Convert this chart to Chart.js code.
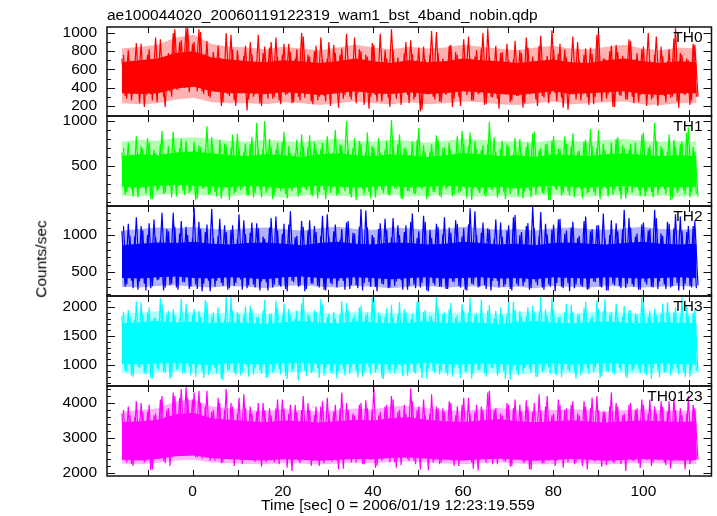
<!DOCTYPE html>
<html>
<head>
<meta charset="utf-8">
<script src="https://cdn.jsdelivr.net/npm/chart.js@4.4.0/dist/chart.umd.min.js"></script>
<style>
  html, body { margin: 0; padding: 0; background: #fff; }
  #wrap { position: relative; width: 717px; height: 516px; overflow: hidden; font-family: "Liberation Sans", Arial, Helvetica, sans-serif; }
  #wrap canvas { position: absolute; left: 0; top: 0; }
  .txt { position: absolute; white-space: nowrap; color: #000; font-size: 15.5px; line-height: 1; font-weight: normal; }
</style>
</head>
<body>
<div id="wrap">
  <canvas id="c0" width="717" height="516"></canvas>
  <canvas id="c1" width="717" height="516"></canvas>
  <canvas id="c2" width="717" height="516"></canvas>
  <canvas id="c3" width="717" height="516"></canvas>
  <canvas id="c4" width="717" height="516"></canvas>
  <div class="txt" id="title" style="left:107px;top:7px;">ae100044020_20060119122319_wam1_bst_4band_nobin.qdp</div>
  <div class="txt" id="ylab" style="left:41px;top:259px;transform:translate(-50%,-50%) rotate(-90deg);">Counts/sec</div>
  <div class="txt" id="xlab" style="left:398px;top:505px;transform:translate(-50%,-50%);">Time [sec] 0 = 2006/01/19 12:23:19.559</div>
</div>
<script>
// time bins (sec from 2006/01/19 12:23:19.559)
const T_START = -15.7;
const T_STEP = 0.712;      // spacing of each sample list (the b lists sit half a step later)
const CORE_STEP = 3.984;   // band envelope samples

// individual samples (the spikes)
const th0 = [
  720,310, 810,260, 690,380, 880,190, 760,330, 650,240, 930,300, 700,360, 1000,380, 900,420,
  1060,350, 880,430, 1040,360, 770,310, 720,400, 860,200, 700,330, 980,260, 810,370, 750,150,
  900,300, 690,230, 780,340, 840,280, 950,260, 760,320, 880,230, 720,300, 1000,290, 760,250,
  800,260, 950,310, 720,200, 870,340, 760,280, 990,300, 700,230, 820,360, 760,170, 890,320,
  680,250, 810,290, 1040,350, 730,210, 780,320, 920,270, 700,140, 850,330, 760,300, 1010,250,
  720,320, 860,190, 790,300, 700,360, 960,260, 740,330, 830,210, 1050,300, 690,280, 780,350,
  880,240, 710,310, 810,180, 950,330, 740,270, 860,310, 700,230, 1030,340, 770,290, 820,160,
  690,330, 900,260, 760,300, 840,220, 980,350, 720,280, 800,190, 870,320, 750,270, 930,300,
  710,240, 820,330, 1000,270, 760,200, 850,310, 690,290, 940,250, 780,330, 720,210, 880,300
];
const th0b = [
  760,280, 700,350, 890,230, 640,320, 820,260, 950,380, 710,190, 780,300, 1040,380, 920,400,
  1050,420, 900,360, 1010,330, 910,290, 790,370, 730,240, 1000,310, 820,200, 700,350, 860,270,
  770,330, 980,200, 850,280, 900,300, 740,220, 880,330, 790,240, 820,260, 960,340, 740,220,
  860,300, 710,250, 900,350, 780,180, 830,320, 690,270, 950,340, 800,210, 740,300, 870,250,
  990,330, 720,190, 810,280, 680,350, 900,230, 770,300, 840,160, 710,330, 1020,270, 780,240,
  690,350, 870,280, 760,200, 930,320, 720,260, 810,340, 1000,220, 740,290, 860,170, 790,330,
  700,260, 910,310, 780,230, 840,360, 690,200, 970,290, 750,330, 820,250, 880,180, 730,320,
  960,270, 700,340, 830,210, 770,300, 1030,250, 720,330, 860,190, 790,310, 700,270, 910,230,
  780,320, 850,200, 690,290, 960,340, 740,240, 820,300, 1050,180, 760,320, 700,260, 870,300
];
const th1 = [
  650,180, 760,240, 600,150, 720,260, 810,130, 680,220, 740,190, 620,270, 880,160, 700,230,
  780,200, 640,120, 730,250, 690,180, 820,210, 610,140, 750,260, 700,190, 860,230, 660,170,
  740,150, 980,240, 700,200, 800,130, 680,260, 760,190, 720,220, 640,160, 850,250, 710,180,
  770,140, 690,230, 830,200, 650,170, 740,260, 1000,190, 700,120, 780,240, 660,210, 720,150,
  810,230, 680,180, 1010,250, 740,140, 700,220, 620,190, 790,260, 730,130, 660,210, 840,170,
  700,240, 760,160, 640,200, 890,250, 720,120, 780,220, 680,180, 740,240, 820,150, 690,210,
  750,190, 630,260, 800,140, 710,230, 860,180, 670,200, 740,120, 780,250, 690,170, 830,220,
  720,150, 660,240, 770,190, 910,210, 700,130, 750,250, 640,180, 800,220, 730,140, 680,200,
  760,230, 850,160, 700,210, 980,180, 720,240, 660,120, 790,200, 740,230, 870,150, 710,190
];
const th1b = [
  700,210, 620,160, 830,250, 690,190, 760,130, 640,240, 890,200, 720,150, 680,270, 800,180,
  650,220, 770,140, 710,250, 940,190, 660,160, 790,230, 730,120, 850,210, 690,260, 750,170,
  820,200, 680,150, 1000,240, 710,180, 760,220, 880,140, 640,260, 790,190, 720,230, 840,160,
  690,210, 760,130, 650,250, 900,190, 730,220, 680,150, 810,260, 750,180, 870,140, 700,230,
  640,200, 780,170, 720,250, 850,130, 690,220, 770,190, 920,240, 660,160, 740,210, 800,150,
  710,260, 680,180, 830,220, 750,140, 870,250, 690,200, 730,160, 990,230, 660,190, 780,130,
  720,240, 810,170, 640,220, 760,150, 880,260, 700,190, 750,120, 830,230, 690,200, 740,170,
  860,250, 670,140, 790,210, 720,180, 900,230, 680,160, 760,240, 820,130, 700,200, 750,260,
  640,170, 870,220, 730,150, 780,240, 690,190, 850,140, 710,230, 770,180, 930,210, 660,160
];
const th2 = [
  1050,300, 1150,380, 980,260, 1120,340, 1000,280, 1210,390, 940,250, 1080,320, 1300,290, 1020,360,
  1110,270, 960,330, 1180,240, 1040,380, 1350,300, 990,350, 1130,260, 1070,310, 950,400, 1200,280,
  1030,330, 1160,250, 980,360, 1100,290, 1250,320, 1010,270, 1140,380, 970,300, 1190,240, 1060,340,
  1120,310, 990,260, 1280,350, 1050,290, 940,380, 1170,270, 1030,320, 1110,250, 1330,360, 1000,300,
  1080,340, 1220,280, 970,310, 1130,390, 1040,260, 1180,330, 960,290, 1260,250, 1070,350, 1150,300,
  1010,270, 1100,370, 1200,310, 980,260, 1140,340, 1320,290, 1030,320, 1090,250, 950,380, 1170,300,
  1060,270, 1240,340, 1000,310, 1120,260, 1380,360, 990,290, 1150,330, 1070,240, 1210,300, 1020,350,
  1100,280, 960,320, 1190,260, 1050,370, 1130,300, 1290,250, 1000,340, 1160,310, 1070,280, 1230,330,
  980,260, 1140,360, 1060,300, 1340,270, 1020,330, 1180,290, 1090,350, 1250,260, 1040,310, 1120,280
];
const th2b = [
  1120,330, 990,280, 1240,370, 1060,250, 1160,310, 970,400, 1300,290, 1050,340, 1110,260, 1190,360,
  1000,300, 1370,270, 1080,340, 1140,240, 960,380, 1220,310, 1040,280, 1130,350, 1280,260, 1010,320,
  1170,290, 1090,370, 950,250, 1230,330, 1060,300, 1150,240, 1320,360, 990,310, 1110,270, 1200,340,
  1040,290, 1260,250, 980,330, 1140,380, 1080,260, 1190,320, 1020,280, 1350,350, 1100,300, 970,240,
  1160,330, 1070,290, 1230,370, 1000,260, 1130,310, 1290,280, 1050,350, 1180,240, 960,320, 1110,300,
  1240,270, 1030,360, 1150,290, 1090,250, 1360,330, 1000,300, 1170,270, 1070,380, 1210,290, 980,330,
  1130,250, 1270,310, 1040,360, 1160,280, 1090,320, 1310,260, 1010,300, 1140,350, 1220,280, 1060,240,
  1180,330, 990,300, 1250,270, 1080,360, 1130,290, 960,250, 1200,320, 1050,280, 1340,340, 1100,300,
  1020,260, 1170,330, 1080,290, 1230,370, 990,270, 1150,310, 1280,250, 1060,340, 1120,290, 1190,320
];
const th3 = [
  1850,900, 1950,820, 1780,960, 2080,860, 1900,780, 1820,940, 2150,880, 1880,760, 1960,920, 1800,850,
  2050,970, 1870,800, 1930,890, 2120,830, 1840,950, 1990,760, 1790,900, 2170,870, 1910,820, 1860,980,
  2020,840, 1820,910, 1940,780, 1880,870, 2110,930, 1850,810, 1970,880, 1800,740, 2060,900, 1890,860,
  1950,950, 2140,820, 1830,890, 1920,770, 1870,930, 2070,850, 1810,900, 1990,800, 1860,960, 2160,870,
  1900,780, 1840,920, 2030,860, 1880,990, 1960,810, 1790,880, 2100,940, 1920,760, 1850,900, 2180,840,
  1880,870, 1970,800, 1820,950, 2050,880, 1900,770, 1860,910, 2130,850, 1940,960, 1800,820, 1990,890,
  1870,750, 2090,900, 1930,860, 1840,930, 2020,800, 1890,880, 1960,960, 2150,840, 1820,790, 1910,910,
  2040,870, 1860,820, 1980,940, 1800,880, 2110,780, 1930,900, 1870,860, 2060,950, 1840,800, 1950,890,
  1890,930, 2170,850, 1830,760, 1970,910, 1880,870, 2080,820, 1920,940, 1850,880, 2010,800, 1900,900
];
const th3b = [
  1920,880, 1840,800, 2100,950, 1880,840, 1990,770, 1810,910, 2060,860, 1930,790, 1860,930, 2140,870,
  1900,820, 1970,960, 1830,780, 2080,900, 1910,850, 1850,740, 2180,920, 1940,830, 1880,880, 2010,800,
  1960,940, 1830,860, 2120,790, 1890,910, 1990,840, 2060,760, 1870,930, 1940,870, 2170,810, 1850,890,
  1920,780, 2040,940, 1880,850, 1810,900, 2100,820, 1950,960, 1870,790, 2020,880, 1900,840, 2150,920,
  1860,760, 1980,870, 1830,930, 2090,810, 1920,890, 1880,850, 2130,780, 1950,940, 1840,860, 2000,900,
  1910,820, 2070,960, 1860,780, 1940,880, 2160,850, 1890,910, 1820,800, 2030,940, 1930,870, 1870,760,
  2110,900, 1950,830, 1840,950, 1990,870, 1900,790, 2180,910, 1860,850, 1960,820, 1830,930, 2050,880,
  1920,770, 1880,900, 2090,850, 1850,960, 1970,810, 2140,880, 1910,840, 1830,900, 2020,780, 1940,930,
  1870,860, 2100,820, 1930,950, 1860,790, 2060,880, 1900,920, 1990,840, 2170,800, 1850,910, 1950,870
];
const th0123 = [
  3700,2400, 3900,2250, 3600,2500, 4000,2300, 3750,2080, 3650,2450, 4100,2350, 3800,2200, 4300,2550, 4150,2500,
  4450,2600, 4100,2450, 4350,2400, 3900,2500, 3750,2350, 4150,2280, 3800,2420, 4000,2200, 3700,2380, 4250,2450,
  3900,2350, 3750,2450, 4000,2300, 3850,2400, 3850,2250, 4100,2400, 3700,2060, 3950,2350, 3800,2450, 4000,2200,
  3650,2400, 3900,2280, 4150,2500, 3750,2350, 3850,2120, 4000,2420, 3700,2300, 3950,2250, 4080,2450, 3800,2150,
  3650,2350, 3900,2480, 4200,2300, 3750,2220, 3950,2400, 4420,2350, 3800,2090, 4100,2450, 3700,2300, 3900,2250,
  3850,2500, 4050,2350, 3650,2200, 3950,2420, 4150,2300, 3750,2070, 3900,2380, 4300,2450, 3800,2250, 3700,2350,
  4000,2180, 3850,2420, 3950,2300, 4080,2110, 3750,2400, 4250,2280, 3900,2350, 3650,2200, 4100,2480, 3800,2300,
  3950,2250, 3700,2400, 4050,2100, 3850,2350, 4200,2450, 3750,2220, 3900,2300, 4000,2400, 3650,2060, 3950,2350,
  3800,2280, 4100,2450, 3700,2200, 3900,2380, 4050,2300, 3750,2130, 4150,2420, 3850,2350, 3700,2250, 3950,2400
];
const th0123b = [
  3800,2300, 3650,2200, 4050,2450, 3750,2350, 3950,2100, 3700,2400, 4200,2280, 3850,2500, 4200,2500, 4400,2550,
  4150,2550, 4300,2450, 4000,2500, 4350,2350, 3800,2480, 4000,2300, 4400,2400, 3900,2550, 4150,2250, 3850,2450,
  3700,2320, 4000,2180, 3800,2420, 3650,2300, 4100,2450, 3850,2150, 3950,2380, 3750,2280, 4200,2430, 3800,2350,
  3900,2200, 4050,2460, 3700,2320, 3950,2100, 4300,2400, 3800,2300, 3650,2450, 4000,2250, 3850,2380, 4450,2200,
  3750,2420, 3950,2300, 4100,2150, 3800,2480, 3700,2350, 4050,2250, 3900,2420, 3650,2080, 4250,2370, 3850,2300,
  3750,2450, 4000,2200, 3900,2350, 4150,2420, 3700,2120, 3950,2380, 3800,2300, 4350,2250, 3850,2460, 3650,2330,
  3950,2200, 4100,2420, 3750,2300, 3900,2090, 4000,2380, 3800,2280, 4200,2440, 3700,2350, 3950,2150, 3850,2400,
  4050,2300, 3650,2200, 3900,2450, 4150,2330, 3800,2180, 3750,2400, 4300,2300, 3900,2250, 3700,2420, 4000,2350,
  3850,2140, 3950,2380, 4100,2300, 3700,2450, 3900,2220, 4050,2350, 3800,2400, 3650,2100, 4200,2330, 3850,2380
];

// band edges: outer = where the lines thin out, core = solid part
const outerHi0 = [830,850,870,950,980,880,850,840,820,850,830,810,840,870,840,820,850,830,840,870,850,830,810,840,860,830,820,850,870,830,810,840,830];
const coreHi0 = [680,700,720,780,800,730,710,690,680,700,690,670,690,720,690,670,700,680,690,720,700,690,670,690,710,680,670,700,720,690,670,690,680];
const coreLo0 = [340,330,340,390,410,360,340,340,330,350,340,320,340,360,340,330,350,330,340,360,350,330,320,340,360,330,340,350,360,330,320,340,340];
const outerLo0 = [230,220,230,270,290,240,230,230,220,240,230,210,230,250,230,220,240,220,230,250,240,220,210,230,250,220,230,240,250,220,210,230,230];

const outerHi1 = [770,790,780,810,820,800,780,770,790,780,760,790,800,780,770,790,780,760,780,800,790,770,780,760,790,780,770,790,800,780,770,780,770];
const coreHi1 = [610,630,620,650,660,640,620,610,630,620,600,630,640,620,610,630,620,600,620,640,630,610,620,600,630,620,610,630,640,620,610,620,610];
const coreLo1 = [270,260,280,290,280,270,260,280,270,250,270,280,270,260,270,280,260,270,280,270,260,270,250,270,280,270,260,270,280,260,270,260,270];
const outerLo1 = [170,160,180,190,180,170,160,180,170,150,170,180,170,160,170,180,160,170,180,170,160,170,150,170,180,170,160,170,180,160,170,160,170];

const outerHi2 = [1060,1080,1100,1090,1110,1080,1070,1090,1100,1080,1060,1090,1110,1080,1070,1100,1090,1070,1080,1110,1090,1070,1080,1060,1090,1100,1080,1070,1090,1110,1080,1070,1080];
const coreHi2 = [860,880,900,890,910,880,870,890,900,880,860,890,910,880,870,900,890,870,880,910,890,870,880,860,890,900,880,870,890,910,880,870,880];
const coreLo2 = [420,410,430,440,420,410,430,420,400,430,440,420,410,430,420,400,420,430,410,420,430,410,420,400,430,420,410,430,420,410,420,430,420];
const outerLo2 = [300,290,310,320,300,290,310,300,280,310,320,300,290,310,300,280,300,310,290,300,310,290,300,280,310,300,290,310,300,290,300,310,300];

const outerHi3 = [1890,1910,1930,1900,1920,1890,1910,1900,1880,1910,1930,1900,1890,1920,1910,1890,1900,1920,1890,1910,1900,1880,1910,1930,1900,1890,1910,1920,1900,1890,1910,1900,1890];
const coreHi3 = [1720,1740,1760,1730,1750,1720,1740,1730,1710,1740,1760,1730,1720,1750,1740,1720,1730,1750,1720,1740,1730,1710,1740,1760,1730,1720,1740,1750,1730,1720,1740,1730,1720];
const coreLo3 = [1020,1010,1030,1040,1020,1000,1030,1020,1010,1030,1040,1020,1010,1020,1030,1010,1020,1040,1020,1010,1030,1020,1000,1020,1030,1010,1020,1040,1020,1010,1030,1020,1010];
const outerLo3 = [860,850,870,880,860,840,870,860,850,870,880,860,850,860,870,850,860,880,860,850,870,860,840,860,870,850,860,880,860,850,870,860,850];

const outerHi4 = [3750,3800,3850,4050,4100,3900,3850,3800,3780,3820,3800,3760,3800,3840,3820,3900,3920,3850,3800,3780,3820,3860,3800,3770,3800,3830,3790,3760,3800,3820,3800,3780,3800];
const coreHi4 = [3450,3480,3520,3680,3720,3560,3520,3480,3460,3500,3480,3440,3480,3520,3500,3570,3590,3520,3480,3460,3500,3540,3480,3450,3480,3510,3470,3440,3480,3500,3480,3460,3480];
const coreLo4 = [2380,2360,2400,2480,2500,2420,2390,2370,2360,2390,2380,2350,2380,2400,2390,2430,2440,2410,2380,2360,2390,2410,2380,2350,2370,2400,2380,2350,2380,2390,2380,2360,2370];
const outerLo4 = [2270,2250,2290,2360,2380,2300,2280,2260,2250,2280,2270,2240,2270,2290,2280,2320,2330,2300,2270,2250,2280,2300,2270,2240,2260,2290,2270,2240,2270,2280,2270,2250,2260];

const panelNames = ['TH0', 'TH1', 'TH2', 'TH3', 'TH0123'];
const panelColors = ['#ff0000', '#00ff00', '#0000ff', '#00ffff', '#ff00ff'];
const panelFringe = ['rgba(255,0,0,0.3)', 'rgba(0,255,0,0.3)', 'rgba(0,0,255,0.3)', 'rgba(0,255,255,0.3)', 'rgba(255,0,255,0.3)'];
const seriesA = [th0, th1, th2, th3, th0123];
const seriesB = [th0b, th1b, th2b, th3b, th0123b];
const outerHis = [outerHi0, outerHi1, outerHi2, outerHi3, outerHi4];
const coreHis = [coreHi0, coreHi1, coreHi2, coreHi3, coreHi4];
const coreLos = [coreLo0, coreLo1, coreLo2, coreLo3, coreLo4];
const outerLos = [outerLo0, outerLo1, outerLo2, outerLo3, outerLo4];
const yMins = [90, 55, 175, 640, 1914];
const yMaxs = [1065, 1055, 1392, 2190, 4486];
const yMajors = [[200, 400, 600, 800, 1000], [500, 1000], [500, 1000], [1000, 1500, 2000], [2000, 3000, 4000]];
const yMinorSteps = [100, 100, 100, 100, 200];
const xTicks = [-10, 0, 10, 20, 30, 40, 50, 60, 70, 80, 90, 100, 110];
const xLabelled = [0, 20, 40, 60, 80, 100];

const X_MIN = -19;
const X_MAX = 115.1;
const panelTops = [27, 116, 206, 296, 386];
const PLOT_BOTTOM = 476;
const FONT = { family: '"Liberation Sans", Arial, Helvetica, sans-serif', size: 15.5 };
const CLEAR = 'rgba(0,0,0,0)';

// frame + inward ticks + panel name
const framePlugin = {
  id: 'frame',
  afterDraw(chart, args, opts) {
    const ctx = chart.ctx;
    const a = chart.chartArea;
    const xs = chart.scales.x;
    const ys = chart.scales.y;
    ctx.save();
    ctx.strokeStyle = '#111';
    ctx.lineWidth = 1;
    ctx.beginPath();
    xTicks.forEach((v) => {
      const px = Math.round(xs.getPixelForValue(v)) + 0.5;
      ctx.moveTo(px, a.top); ctx.lineTo(px, a.top + 6);
      ctx.moveTo(px, a.bottom); ctx.lineTo(px, a.bottom - 6);
    });
    ys.ticks.forEach((t) => {
      const py = Math.round(ys.getPixelForValue(t.value)) + 0.5;
      const len = opts.major.includes(t.value) ? 8 : 4;
      ctx.moveTo(a.left, py); ctx.lineTo(a.left + len, py);
      ctx.moveTo(a.right, py); ctx.lineTo(a.right - len, py);
    });
    ctx.stroke();
    ctx.lineWidth = 1.5;
    ctx.strokeRect(a.left, a.top, a.right - a.left, a.bottom - a.top);
    ctx.fillStyle = '#000';
    ctx.font = FONT.size + 'px ' + FONT.family;
    ctx.textAlign = 'right';
    ctx.textBaseline = 'middle';
    ctx.fillText(opts.label, a.right - 9, a.top + 11);
    ctx.restore();
  }
};

function spikes(values, offset, color) {
  return {
    data: values.map((v, k) => ({ x: T_START + (k + offset) * T_STEP, y: v })),
    borderColor: color,
    borderWidth: 1.2,
    pointRadius: 0,
    tension: 0,
    fill: false,
  };
}

function band(values, fill, bg) {
  return {
    data: values.map((v, k) => ({ x: T_START + k * CORE_STEP, y: v })),
    borderColor: CLEAR,
    backgroundColor: bg || CLEAR,
    borderWidth: 1,
    pointRadius: 0,
    tension: 0,
    fill: fill,
  };
}

function drawPanel(i) {
  const isLast = i === seriesA.length - 1;
  const top = panelTops[i];
  const bottom = isLast ? PLOT_BOTTOM : panelTops[i + 1];
  const yMinorTicks = [];
  for (let v = Math.ceil(yMins[i] / yMinorSteps[i]) * yMinorSteps[i]; v <= yMaxs[i]; v += yMinorSteps[i]) {
    yMinorTicks.push(v);
  }

  return new Chart(document.getElementById('c' + i), {
    type: 'line',
    data: {
      datasets: [
        spikes(seriesA[i], 0, panelColors[i]),
        spikes(seriesB[i], 0.5, panelColors[i]),
        band(coreLos[i], false),
        band(coreHis[i], '-1', panelColors[i]),
        band(outerLos[i], false),
        band(outerHis[i], '-1', panelFringe[i]),
      ],
    },
    options: {
      responsive: false,
      animation: false,
      events: [],
      layout: { padding: { top: top, bottom: isLast ? 10 : 516 - bottom, left: 0, right: 5.5 } },
      plugins: {
        legend: { display: false },
        tooltip: { enabled: false },
        frame: { label: panelNames[i], major: yMajors[i] },
      },
      scales: {
        x: {
          type: 'linear',
          min: X_MIN,
          max: X_MAX,
          display: isLast,
          afterBuildTicks: (s) => { s.ticks = xTicks.map((v) => ({ value: v })); },
          afterFit: (s) => { if (isLast) s.height = 30; },
          grid: { display: false, drawTicks: false },
          border: { display: false },
          ticks: {
            autoSkip: false,
            maxRotation: 0,
            padding: 6,
            color: '#000',
            font: FONT,
            callback: (v) => (xLabelled.includes(v) ? String(v) : ''),
          },
        },
        y: {
          min: yMins[i],
          max: yMaxs[i],
          afterBuildTicks: (s) => { s.ticks = yMinorTicks.map((v) => ({ value: v })); },
          afterFit: (s) => { s.width = 107; },
          grid: { display: false, drawTicks: false },
          border: { display: false },
          ticks: {
            autoSkip: false,
            padding: 10,
            color: '#000',
            font: FONT,
            callback: (v) => (yMajors[i].includes(v) ? String(v) : ''),
          },
        },
      },
    },
    plugins: [framePlugin],
  });
}

seriesA.forEach((s, i) => drawPanel(i));
</script>
</body>
</html>
